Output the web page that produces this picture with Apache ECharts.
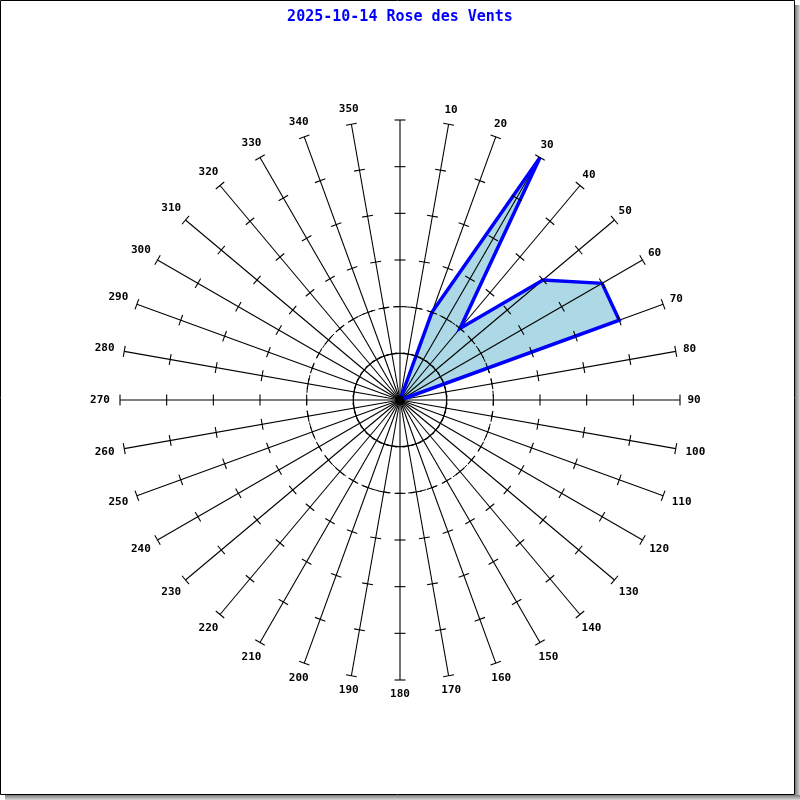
<!DOCTYPE html>
<html>
<head>
<meta charset="utf-8">
<script src="https://cdn.jsdelivr.net/npm/echarts@6/dist/echarts.min.js"></script>
<style>html,body{margin:0;padding:0;background:#fff}#chart{width:800px;height:800px}</style>
</head>
<body>
<div id="chart"></div>
<script>
// ---- data ----
const titleText = '2025-10-14 Rose des Vents';
const directions = [0,10,20,30,40,50,60,70,80,90,100,110,120,130,140,150,160,170,180,190,200,210,220,230,240,250,260,270,280,290,300,310,320,330,340,350];
const frequencies = [0,0,2,6,2,4,5,5,0,0,0,0,0,0,0,0,0,0,0,0,0,0,0,0,0,0,0,0,0,0,0,0,0,0,0,0];
const radiusTicks = [1,2,3,4,5,6];
const radiusMax = 6;
const directionLabels = ['','10','20','30','40','50','60','70','80','90','100','110','120','130','140','150','160','170','180','190','200','210','220','230','240','250','260','270','280','290','300','310','320','330','340','350'];
const circleRings = [1, 2];

const chart = echarts.init(document.getElementById('chart'), null, {renderer: 'canvas'});

const lineData = directions.map((a, i) => [frequencies[i], a]);
lineData.push([frequencies[0], 360]);

const tickData = [];
directions.forEach(a => radiusTicks.forEach(r => tickData.push([r, a])));

function centerOf(api) { return api.coord([0, 0]); }

const option = {
  backgroundColor: '#ffffff',
  animation: false,
  title: {
    text: titleText,
    left: 'center',
    top: 5,
    textStyle: {fontFamily: '"DejaVu Sans Mono", monospace', fontSize: 15, fontWeight: 'bold', color: '#0000ff'}
  },
  graphic: [
    {type: 'rect', z: -10, silent: true, shape: {x: 795, y: 5, width: 5, height: 795},
     style: {fill: new echarts.graphic.LinearGradient(0, 0, 1, 0, [{offset: 0, color: '#7a7a7a'}, {offset: 1, color: '#d8d8d8'}])}},
    {type: 'rect', z: -10, silent: true, shape: {x: 5, y: 795, width: 795, height: 5},
     style: {fill: new echarts.graphic.LinearGradient(0, 0, 0, 1, [{offset: 0, color: '#7a7a7a'}, {offset: 1, color: '#d8d8d8'}])}},
    {type: 'rect', z: -9, silent: true, shape: {x: 0.5, y: 0.5, width: 794, height: 794},
     style: {fill: '#ffffff', stroke: '#000000', lineWidth: 1}}
  ],
  polar: {center: [400, 400], radius: 280},
  angleAxis: {
    type: 'value', min: 0, max: 360, interval: 10, startAngle: 90, clockwise: true,
    axisLine: {show: false}, axisTick: {show: false}, axisLabel: {show: false}, splitLine: {show: false}
  },
  radiusAxis: {
    type: 'value', min: 0, max: radiusMax, interval: 1,
    axisLine: {show: false}, axisTick: {show: false}, axisLabel: {show: false}, splitLine: {show: false}
  },
  series: [
    {
      type: 'line', coordinateSystem: 'polar', data: lineData, z: 1,
      showSymbol: false, symbol: 'none', smooth: false, silent: true,
      lineStyle: {width: 0, opacity: 0},
      areaStyle: {color: '#add8e6', opacity: 1}
    },
    {
      type: 'custom', coordinateSystem: 'polar', z: 2, silent: true,
      data: directions.map(a => [radiusMax, a]),
      renderItem: function (params, api) {
        const c = centerOf(api);
        const p = api.coord([api.value(0), api.value(1)]);
        return {type: 'line', shape: {x1: c[0], y1: c[1], x2: p[0], y2: p[1]}, style: {stroke: '#000', lineWidth: 1.1}};
      }
    },
    {
      type: 'custom', coordinateSystem: 'polar', z: 2, silent: true,
      data: circleRings.map(r => [r, 0]),
      renderItem: function (params, api) {
        const c = centerOf(api);
        const p = api.coord([api.value(0), 0]);
        const rr = Math.hypot(p[0] - c[0], p[1] - c[1]);
        return {type: 'circle', shape: {cx: c[0], cy: c[1], r: rr},
          style: {fill: 'none', stroke: '#000', lineWidth: 1, lineDash: params.dataIndex === 1 ? [6, 6] : null}};
      }
    },
    {
      type: 'line', coordinateSystem: 'polar', data: lineData, z: 3,
      showSymbol: false, symbol: 'none', smooth: false, silent: true,
      lineStyle: {width: 3.5, color: '#0000ff', join: 'miter'}
    },
    {
      type: 'custom', coordinateSystem: 'polar', z: 4, silent: true,
      data: [[0, 0]],
      renderItem: function (params, api) {
        const c = centerOf(api);
        return {type: 'circle', shape: {cx: c[0], cy: c[1], r: 4.5}, style: {fill: '#000'}};
      }
    },
    {
      type: 'custom', coordinateSystem: 'polar', z: 4, silent: true,
      data: tickData,
      renderItem: function (params, api) {
        const c = centerOf(api);
        const p = api.coord([api.value(0), api.value(1)]);
        const dx = p[0] - c[0], dy = p[1] - c[1];
        const L = Math.hypot(dx, dy) || 1;
        const nx = -dy / L * 5.5, ny = dx / L * 5.5;
        return {type: 'line', shape: {x1: p[0] - nx, y1: p[1] - ny, x2: p[0] + nx, y2: p[1] + ny}, style: {stroke: '#000', lineWidth: 1.1}};
      }
    },
    {
      type: 'custom', coordinateSystem: 'polar', z: 4, silent: true,
      data: directions.map(a => [radiusMax, a]),
      renderItem: function (params, api) {
        const c = centerOf(api);
        const a = api.value(1);
        const p = api.coord([api.value(0), a]);
        const dx = p[0] - c[0], dy = p[1] - c[1];
        const L = Math.hypot(dx, dy) || 1;
        const txt = directionLabels[params.dataIndex];
        const off = 14 + Math.max(0, txt.length - 2) * 6 * Math.abs(Math.sin(a * Math.PI / 180));
        return {type: 'text', style: {
          text: txt, x: p[0] + dx / L * off, y: p[1] + dy / L * off,
          align: 'center', verticalAlign: 'middle',
          font: 'bold 11px "DejaVu Sans Mono", monospace', fill: '#000'
        }};
      }
    }
  ]
};
chart.setOption(option);
</script>
</body>
</html>
